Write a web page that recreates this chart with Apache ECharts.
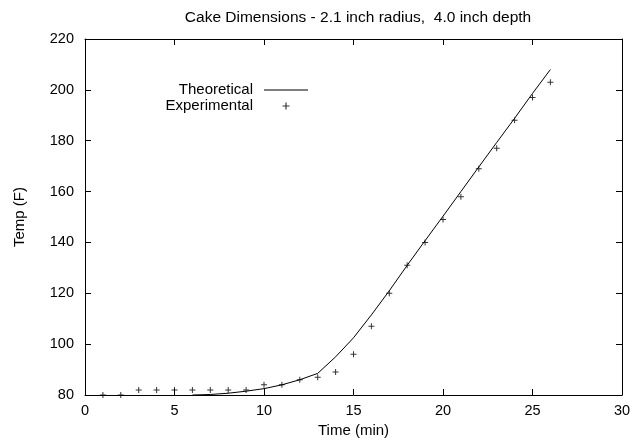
<!DOCTYPE html>
<html>
<head>
<meta charset="utf-8">
<script src="https://cdn.jsdelivr.net/npm/echarts@6/dist/echarts.min.js"></script>
<style>html,body{margin:0;padding:0;background:#fff}#c{width:634px;height:448px}</style>
</head>
<body>
<div id="c"></div>
<script>
const titleText = 'Cake Dimensions - 2.1 inch radius,  4.0 inch depth';
const xName = 'Time (min)';
const yName = 'Temp (F)';
const theoTime = [6, 7, 8, 9, 10, 11, 12, 13, 14, 15, 16, 17, 18, 19, 20, 21, 22, 23, 24, 25, 26];
const theoTemp = [80, 80.2, 80.7, 81.5, 82.5, 84, 86, 88.5, 95, 102.5, 111.5, 121, 131, 140.7, 150.3, 160, 169.7, 179.3, 188.8, 198.6, 208];
const expTime = [1, 2, 3, 4, 5, 6, 7, 8, 9, 10, 11, 12, 13, 14, 15, 16, 17, 18, 19, 20, 21, 22, 23, 24, 25, 26];
const expTemp = [80, 80, 82, 82, 82, 82, 82, 82, 82, 84, 84, 86, 87, 89, 96, 107, 120, 131, 140, 149, 158, 169, 177, 188, 197, 203];

const FONT = 'Liberation Sans';
const TXT = 15;
const TICK = 14.5;
const plus = 'path://M0,2.5H6V3.5H0Z M2.5,0H3.5V6H2.5Z';
const lineIcon = 'path://M0,0H44V1H0Z';

const chart = echarts.init(document.getElementById('c'), null, {renderer: 'canvas'});
const axisCommon = {
  min: 0, max: 30, interval: 5,
  axisLine: {show: true, onZero: false, lineStyle: {color: '#000', width: 1}},
  axisTick: {show: true, inside: true, length: 6, lineStyle: {color: '#000'}},
  splitLine: {show: false}
};
chart.setOption({
  animation: false,
  backgroundColor: '#fff',
  textStyle: {fontFamily: FONT},
  title: {
    text: titleText, left: 353, top: 5, textAlign: 'center',
    textStyle: {fontFamily: FONT, fontSize: 15.5, fontWeight: 'normal', color: '#000'}
  },
  legend: {
    orient: 'vertical', align: 'right', right: 326, top: 82, padding: 0,
    itemWidth: 44, itemHeight: 7, itemGap: 0, symbolKeepAspect: true,
    textStyle: {fontFamily: FONT, fontSize: TXT, lineHeight: 16, color: '#000', padding: [0, 6, 0, 0]},
    data: [
      {name: 'Theoretical', icon: lineIcon, itemStyle: {color: '#000'}},
      {name: 'Experimental', icon: plus, itemStyle: {color: '#000'}}
    ]
  },
  grid: {left: 85, right: 12, top: 39, bottom: 53, containLabel: false},
  xAxis: [
    Object.assign({}, axisCommon, {
      type: 'value', position: 'bottom', name: xName, nameLocation: 'middle', nameGap: 24,
      nameTextStyle: {fontFamily: FONT, fontSize: TXT, color: '#000'},
      axisLabel: {color: '#000', fontFamily: FONT, fontSize: TICK, margin: 8}
    }),
    Object.assign({}, axisCommon, {
      type: 'value', position: 'top', axisLabel: {show: false}
    })
  ],
  yAxis: [
    {
      type: 'value', min: 80, max: 220, interval: 20, position: 'left',
      name: yName, nameLocation: 'middle', nameGap: 58, nameRotate: 90,
      nameTextStyle: {fontFamily: FONT, fontSize: TXT, color: '#000'},
      axisLine: {show: true, onZero: false, lineStyle: {color: '#000'}},
      axisTick: {show: true, inside: true, length: 6, lineStyle: {color: '#000'}},
      axisLabel: {color: '#000', fontFamily: FONT, fontSize: TICK, margin: 11},
      splitLine: {show: false}
    },
    {
      type: 'value', min: 80, max: 220, interval: 20, position: 'right',
      axisLine: {show: true, onZero: false, lineStyle: {color: '#000'}},
      axisTick: {show: true, inside: true, length: 6, lineStyle: {color: '#000'}},
      axisLabel: {show: false},
      splitLine: {show: false}
    }
  ],
  series: [
    {
      name: 'Theoretical', type: 'line', xAxisIndex: 0, yAxisIndex: 0,
      data: theoTime.map((t, i) => [t, theoTemp[i]]),
      showSymbol: false, symbol: 'none', smooth: false,
      lineStyle: {color: '#000', width: 1}, itemStyle: {color: '#000'}
    },
    {
      name: 'Experimental', type: 'scatter', xAxisIndex: 0, yAxisIndex: 0,
      data: expTime.map((t, i) => [t, expTemp[i]]),
      symbol: plus, symbolSize: 6,
      itemStyle: {color: '#000'}
    }
  ]
});
</script>
</body>
</html>
